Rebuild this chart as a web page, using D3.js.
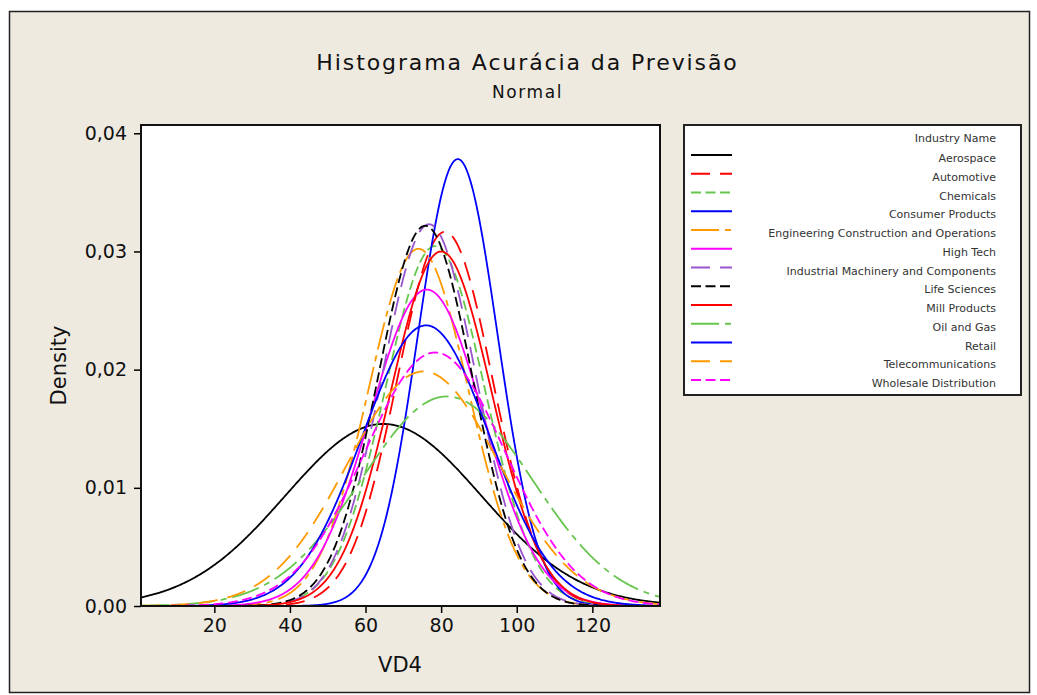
<!DOCTYPE html>
<html>
<head>
<meta charset="utf-8">
<script src="https://cdn.jsdelivr.net/npm/d3@7"></script>
<style>
  body { margin: 0; background: #ffffff; }
  svg { display: block; font-family: "DejaVu Sans", sans-serif; }
</style>
</head>
<body>
<svg id="chart" width="1037" height="695"></svg>
<script>
// Fitted normal parameters per industry (VD4)
const industries = [
  "Aerospace", "Automotive", "Chemicals", "Consumer Products",
  "Engineering Construction and Operations", "High Tech",
  "Industrial Machinery and Components", "Life Sciences", "Mill Products",
  "Oil and Gas", "Retail", "Telecommunications", "Wholesale Distribution"
];
const means = [64.7, 81.0, 78.4, 84.4, 74.0, 76.2, 76.8, 75.8, 80.0, 81.5, 76.0, 75.3, 78.4];
const stdDevs = [25.9, 12.6, 13.1, 10.55, 13.2, 14.9, 12.35, 12.4, 13.3, 22.5, 16.8, 20.1, 18.6];

const colors = ["#000000", "#ff0000", "#66c64e", "#0000ff", "#ff9900", "#ff00ff",
                "#9955cc", "#000000", "#ff0000", "#66c64e", "#0000ff", "#ff9900", "#ff00ff"];
const dashes = [null, "19 10", "10 4.5", null, "28 6 6 6", null,
                "19 10", "10 4.5", null, "28 6 6 6", null, "19 10", "10 4.5"];

const xTicks = [20, 40, 60, 80, 100, 120];
const yTicks = [0, 0.01, 0.02, 0.03, 0.04];

const svg = d3.select("#chart");

// figure panel
svg.append("rect")
  .attr("x", 9.5).attr("y", 11.5).attr("width", 1020).attr("height", 681)
  .attr("fill", "#eeeae0").attr("stroke", "#222").attr("stroke-width", 1.5);

const plot = { left: 141, right: 660, top: 125, bottom: 606 };

const x = d3.scaleLinear().domain([0.6, 137.9]).range([plot.left, plot.right]);
const y = d3.scaleLinear().domain([0, 0.0407]).range([plot.bottom, plot.top]);

svg.append("rect")
  .attr("x", plot.left).attr("y", plot.top)
  .attr("width", plot.right - plot.left).attr("height", plot.bottom - plot.top)
  .attr("fill", "#ffffff");

// density curves
svg.append("clipPath").attr("id", "plotClip")
  .append("rect")
  .attr("x", plot.left).attr("y", plot.top)
  .attr("width", plot.right - plot.left).attr("height", plot.bottom - plot.top);

const xs = d3.range(0.6, 137.9 + 0.001, 0.25);
const line = d3.line().x(d => x(d[0])).y(d => y(d[1]));
const curves = svg.append("g").attr("clip-path", "url(#plotClip)");

industries.forEach((name, i) => {
  const pdf = v => Math.exp(-0.5 * ((v - means[i]) / stdDevs[i]) ** 2) / (stdDevs[i] * Math.sqrt(2 * Math.PI));
  curves.append("path")
    .datum(xs.map(v => [v, pdf(v)]))
    .attr("d", line)
    .attr("fill", "none")
    .attr("stroke", colors[i])
    .attr("stroke-width", 1.8)
    .attr("stroke-dasharray", dashes[i]);
});

// axes
const xAxis = svg.append("g")
  .attr("transform", `translate(0,${plot.bottom})`)
  .call(d3.axisBottom(x).tickValues(xTicks).tickSize(7).tickPadding(6).tickFormat(d3.format("d")));
const yAxis = svg.append("g")
  .attr("transform", `translate(${plot.left},0)`)
  .call(d3.axisLeft(y).tickValues(yTicks).tickSize(7).tickPadding(7)
    .tickFormat(d => d3.format(".2f")(d).replace(".", ",")));

[xAxis, yAxis].forEach(g => {
  g.select(".domain").remove();
  g.selectAll(".tick line").attr("stroke", "#000").attr("stroke-width", 1.5);
  g.selectAll(".tick text").attr("fill", "#111").style("font-size", "19px")
    .style("font-family", "'DejaVu Sans', sans-serif");
});

svg.append("rect")
  .attr("x", plot.left).attr("y", plot.top)
  .attr("width", plot.right - plot.left).attr("height", plot.bottom - plot.top)
  .attr("fill", "none").attr("stroke", "#111").attr("stroke-width", 2);

// titles
svg.append("text").attr("x", 527.5).attr("y", 70).attr("text-anchor", "middle")
  .style("font-size", "22px").style("letter-spacing", "1.9px").attr("fill", "#111")
  .text("Histograma Acurácia da Previsão");
svg.append("text").attr("x", 527.5).attr("y", 98).attr("text-anchor", "middle")
  .style("font-size", "17px").style("letter-spacing", "1.6px").attr("fill", "#111").text("Normal");

svg.append("text").attr("x", 400).attr("y", 672).attr("text-anchor", "middle")
  .style("font-size", "21px").attr("fill", "#111").text("VD4");
svg.append("text")
  .attr("transform", `translate(66,${(plot.top + plot.bottom) / 2}) rotate(-90)`)
  .attr("text-anchor", "middle")
  .style("font-size", "21px").attr("fill", "#111").text("Density");

// legend
const lg = { left: 684, top: 125, width: 337, height: 270 };
svg.append("rect")
  .attr("x", lg.left).attr("y", lg.top).attr("width", lg.width).attr("height", lg.height)
  .attr("fill", "#ffffff").attr("stroke", "#222").attr("stroke-width", 2);

svg.append("text").attr("x", 996).attr("y", 142).attr("text-anchor", "end")
  .style("font-size", "11px").attr("fill", "#333").text("Industry Name");

const rowY = d3.scaleLinear().domain([0, industries.length - 1]).range([158, 383]);
industries.forEach((name, i) => {
  const cy = rowY(i);
  svg.append("line")
    .attr("x1", 691).attr("x2", 732).attr("y1", cy - 3).attr("y2", cy - 3)
    .attr("stroke", colors[i]).attr("stroke-width", 1.8)
    .attr("stroke-dasharray", dashes[i]);
  svg.append("text").attr("x", 996).attr("y", cy + 4).attr("text-anchor", "end")
    .style("font-size", "11px").attr("fill", "#333").text(name);
});
</script>
</body>
</html>
